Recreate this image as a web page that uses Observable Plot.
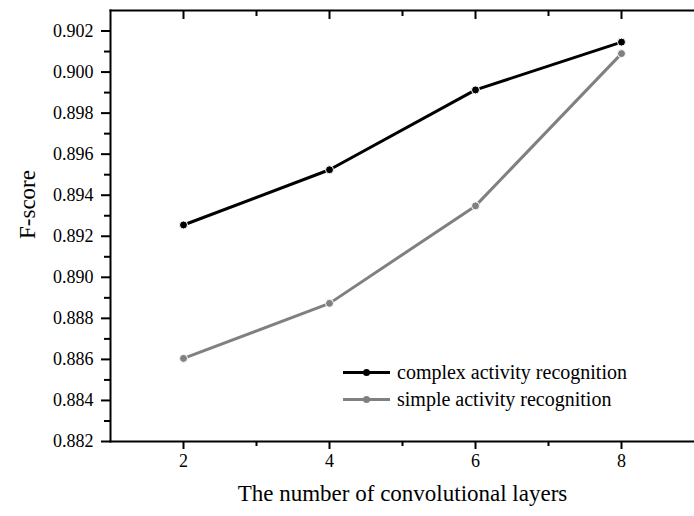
<!DOCTYPE html>
<html>
<head>
<meta charset="utf-8">
<script src="https://cdn.jsdelivr.net/npm/d3@7"></script>
<script src="https://cdn.jsdelivr.net/npm/@observablehq/plot@0.6"></script>
<style>
  body { margin: 0; background: #fff; }
  #wrap { position: relative; width: 694px; height: 516px; font-family: "Liberation Serif", "Times New Roman", serif; }
  #wrap svg, #wrap svg text { font-family: "Liberation Serif", "Times New Roman", serif !important; font-variant: normal !important; }
  #legend { position: absolute; left: 343px; top: 359px; font-size: 20px; color: #000; }
  .row { display: flex; align-items: center; height: 27px; }
  .sw { position: relative; width: 47px; height: 3px; margin-right: 7px; }
  .sw .ln { position: absolute; left: 0; right: 0; top: 0; height: 3px; }
  .sw .dt { position: absolute; left: 20px; top: -2px; width: 7px; height: 7px; border-radius: 50%; }
</style>
</head>
<body>
<div id="wrap"></div>
<script>
const layers = [2, 4, 6, 8];
const complexScores = [0.89255, 0.89524, 0.89913, 0.90146];
const simpleScores = [0.88605, 0.88873, 0.89348, 0.90090];
const seriesNames = ["complex activity recognition", "simple activity recognition"];
const seriesColors = ["#000000", "#808080"];
const xMajorTicks = [2, 4, 6, 8];
const xMinorTicks = [3, 5, 7];
const yMajorTicks = [0.882, 0.884, 0.886, 0.888, 0.890, 0.892, 0.894, 0.896, 0.898, 0.900, 0.902];
const yMinorTicks = [0.883, 0.885, 0.887, 0.889, 0.891, 0.893, 0.895, 0.897, 0.899, 0.901];
const xTitle = "The number of convolutional layers";
const yTitle = "F-score";

const data = [];
layers.forEach((l, i) => {
  data.push({layer: l, score: complexScores[i], series: seriesNames[0]});
  data.push({layer: l, score: simpleScores[i], series: seriesNames[1]});
});

const W = 694, H = 516, MT = 10, MB = 75;
const font = "Liberation Serif";
const chart = Plot.plot({
  width: W,
  height: H,
  marginTop: MT,
  marginLeft: 110,
  marginRight: 0,
  marginBottom: MB,
  style: {fontFamily: font, background: "#fff", color: "#000"},
  x: {domain: [1, 9]},
  y: {domain: [0.882, 0.903]},
  color: {domain: seriesNames, range: seriesColors},
  marks: [
    Plot.frame({anchor: "left", strokeWidth: 2}),
    Plot.frame({anchor: "top", strokeWidth: 2}),
    Plot.frame({anchor: "bottom", strokeWidth: 2}),
    Plot.axisY({ticks: yMajorTicks, tickSize: 9, tickPadding: 8, strokeWidth: 2, fontSize: 18, fontFamily: font, tickFormat: d3.format(".3f"), label: null}),
    Plot.axisY({ticks: yMinorTicks, tickSize: 6, strokeWidth: 2, tickFormat: () => "", label: null}),
    Plot.axisX({ticks: xMajorTicks, tickSize: 8, tickPadding: 5, strokeWidth: 2, fontSize: 18, fontFamily: font, label: null}),
    Plot.axisX({ticks: xMinorTicks, tickSize: 5, strokeWidth: 2, tickFormat: () => "", label: null}),
    Plot.axisX({anchor: "top", ticks: xMajorTicks, tickSize: 8, dy: 8, strokeWidth: 2, tickFormat: () => "", label: null}),
    Plot.axisX({anchor: "top", ticks: xMinorTicks, tickSize: 5, dy: 5, strokeWidth: 2, tickFormat: () => "", label: null}),
    Plot.line(data, {x: "layer", y: "score", z: "series", stroke: "series", strokeWidth: 3}),
    Plot.dot(data, {x: "layer", y: "score", fill: "series", stroke: "#fff", strokeWidth: 1, r: 4}),
    Plot.text([xTitle], {text: d => d, frameAnchor: "bottom", dy: 59, fontSize: 23, fontFamily: font}),
    Plot.text([yTitle], {text: d => d, frameAnchor: "left", dx: -83, dy: 13, rotate: -90, fontSize: 23, fontFamily: font})
  ]
});

const wrap = document.getElementById("wrap");
wrap.appendChild(chart);
const legend = document.createElement("div");
legend.id = "legend";
seriesNames.forEach((name, i) => {
  const row = document.createElement("div");
  row.className = "row";
  row.innerHTML = `<div class="sw"><div class="ln" style="background:${seriesColors[i]}"></div><div class="dt" style="background:${seriesColors[i]}"></div></div><span>${name}</span>`;
  legend.appendChild(row);
});
wrap.appendChild(legend);
</script>
</body>
</html>
